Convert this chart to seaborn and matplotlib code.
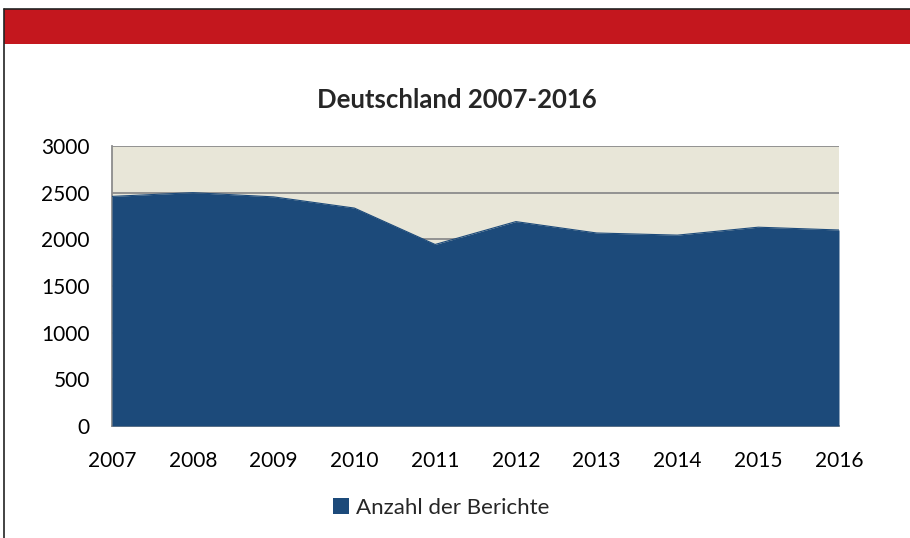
import numpy as np
import pandas as pd
import seaborn as sns
import matplotlib.pyplot as plt
from matplotlib.patches import Rectangle, Patch
from matplotlib.lines import Line2D

# data
years = [2007, 2008, 2009, 2010, 2011, 2012, 2013, 2014, 2015, 2016]
berichte = [2460, 2500, 2455, 2335, 1945, 2190, 2068, 2045, 2130, 2100]
series_name = 'Anzahl der Berichte'

df = pd.DataFrame({'Jahr': years, 'Berichte': berichte})

sns.set_style('white')
plt.rcParams['font.family'] = ['Lato', 'DejaVu Sans']

fig = plt.figure(figsize=(9.1, 5.38), dpi=100)
fig.patch.set_facecolor('white')

# red header band + black frame lines
fig.patches.append(Rectangle((4 / 910, 1 - 44 / 538), 1, 35 / 538,
                             transform=fig.transFigure, facecolor='#C4171E',
                             edgecolor='none', zorder=0))
fig.lines.append(Line2D([4 / 910, 1], [1 - 9 / 538, 1 - 9 / 538],
                        transform=fig.transFigure, color='#222222', lw=1.2))
fig.lines.append(Line2D([4 / 910, 4 / 910], [0, 1 - 9 / 538],
                        transform=fig.transFigure, color='#222222', lw=1.2))

ax = fig.add_axes([112 / 910, 1 - 426 / 538, 727 / 910, 280 / 538])
ax.set_facecolor('#E8E6D8')

area_color = '#1C4A7A'
ax.fill_between(df['Jahr'], df['Berichte'], 0, color=area_color, lw=0, zorder=3)
sns.lineplot(data=df, x='Jahr', y='Berichte', ax=ax, color=area_color, lw=0.8, zorder=3)

ax.set_xlim(2007, 2016)
ax.set_ylim(0, 3000)
ax.set_xticks(years)
ax.set_yticks(range(0, 3001, 500))
ax.yaxis.grid(True, color='#8C8C8C', lw=1.3, zorder=1)
ax.set_axisbelow(True)
ax.tick_params(axis='both', length=0, labelsize=15, colors='black')
ax.tick_params(axis='x', pad=18)
ax.tick_params(axis='y', pad=16)
ax.set_xlabel('')
ax.set_ylabel('')

for side in ['top', 'right']:
    ax.spines[side].set_visible(False)
for side in ['left', 'bottom']:
    ax.spines[side].set_color('#8C8C8C')
    ax.spines[side].set_linewidth(1.3)

fig.text(457 / 910, 1 - 100 / 538, 'Deutschland 2007-2016', ha='center', va='center',
         fontsize=18.5, fontweight='bold')

handle = Patch(facecolor=area_color, edgecolor='none')
fig.legend([handle], [series_name], loc='center', bbox_to_anchor=(441 / 910, 1 - 508 / 538),
           frameon=False, fontsize=16, handlelength=0.75, handleheight=0.75, handletextpad=0.3)

fig.savefig('out.png', dpi=100)
